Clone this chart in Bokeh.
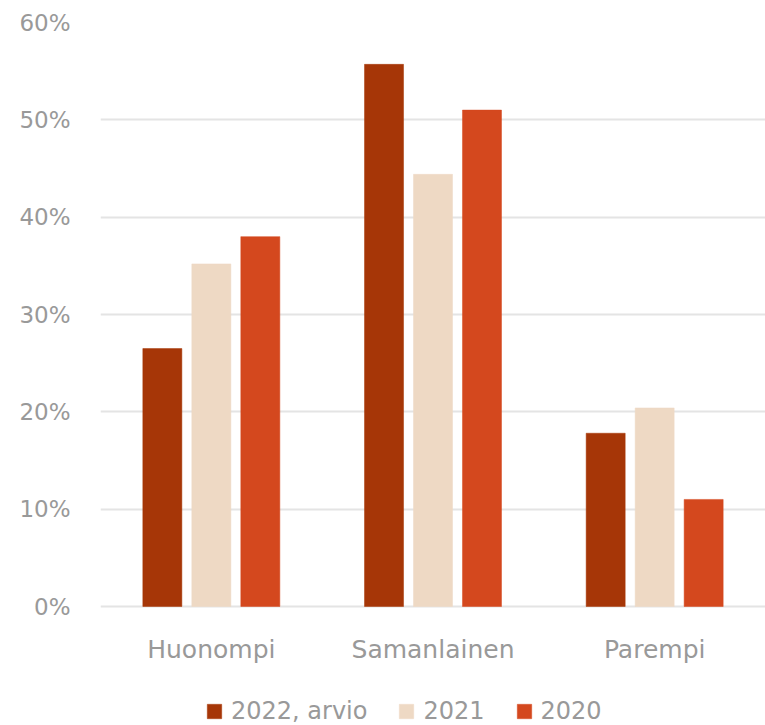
from bokeh.plotting import figure
from bokeh.models import (FactorRange, Range1d, FixedTicker, PrintfTickFormatter,
                          Legend, LegendItem, ColumnDataSource)
from bokeh.core.properties import value
from bokeh.transform import dodge
from bokeh.embed import file_html
from bokeh.resources import INLINE

categories = ["Huonompi", "Samanlainen", "Parempi"]
series_names = ["2022, arvio", "2021", "2020"]
v2022 = [26.5, 55.7, 17.8]
v2021 = [35.2, 44.4, 20.4]
v2020 = [38.0, 51.0, 11.0]
colors = ["#A63607", "#EED9C4", "#D4481E"]
y_ticks = [0, 10, 20, 30, 40, 50, 60]

FONT = "DejaVu Sans"
TXT = "#999999"

# px per % = 584/60 ; frame extends 119px below the 0 line to hold labels + legend
PX = 584 / 60
Y0 = -119 / PX
LABEL_Y = -43 / PX

src = ColumnDataSource(dict(cat=categories, a=v2022, b=v2021, c=v2020,
                            ly=[LABEL_Y] * len(categories)))

p = figure(x_range=FactorRange(*categories), y_range=Range1d(Y0, 60),
           width=765, height=725, output_backend="svg", toolbar_location=None,
           x_axis_location=None,
           min_border_left=100, min_border_right=0, min_border_top=22,
           min_border_bottom=0)

bw = 0.176
off = 0.221
renderers = []
for key, o, col in zip(["a", "b", "c"], [-off, 0, off], colors):
    r = p.vbar(x=dodge("cat", o, range=p.x_range), top=key, bottom=0, width=bw,
               source=src, fill_color=col, line_color=col, line_width=0.5)
    renderers.append(r)

p.text(x="cat", y="ly", text="cat", source=src, text_align="center",
       text_baseline="middle", text_font=value(FONT), text_font_size="25px",
       text_color=TXT)

p.outline_line_color = None
p.xgrid.grid_line_color = None
p.ygrid.grid_line_color = "#e4e4e4"
p.ygrid.grid_line_width = 2

p.yaxis.ticker = FixedTicker(ticks=y_ticks)
p.yaxis.formatter = PrintfTickFormatter(format="%d%%")
p.yaxis.axis_line_color = None
p.yaxis.major_tick_line_color = None
p.yaxis.minor_tick_line_color = None
p.yaxis.major_tick_out = 0
p.yaxis.major_label_standoff = 30
p.yaxis.major_label_text_font = FONT
p.yaxis.major_label_text_font_size = "23px"
p.yaxis.major_label_text_color = TXT

items = [LegendItem(label=n, renderers=[r]) for n, r in zip(series_names, renderers)]
legend = Legend(items=items, orientation="horizontal", location=(105, 0),
                glyph_width=18, glyph_height=18, label_text_font=FONT,
                label_text_font_size="24px", label_text_color=TXT,
                spacing=30, label_standoff=8, border_line_color=None,
                background_fill_alpha=0, padding=0, margin=0)
p.add_layout(legend, "center")

open("out.html", "w").write(file_html(p, INLINE))
